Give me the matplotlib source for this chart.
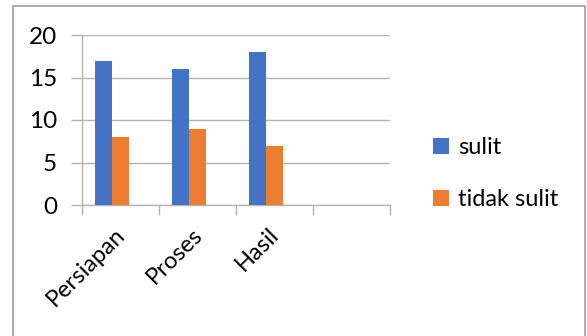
import matplotlib
matplotlib.use("Agg")
import matplotlib.pyplot as plt
from matplotlib.patches import Rectangle
import numpy as np

categories = ["Persiapan", "Proses", "Hasil", ""]
sulit = [17, 16, 18, None]
tidak_sulit = [8, 9, 7, None]
series_names = ["sulit", "tidak sulit"]
colors = ["#4472c4", "#ed7d31"]
y_ticks = [0, 5, 10, 15, 20]

plt.rcParams["font.family"] = ["Lato", "DejaVu Sans"]

fig = plt.figure(figsize=(5.87, 3.36), dpi=100)
ax = fig.add_axes([82 / 587, 131 / 336, 308 / 587, 170 / 336])

x = np.arange(len(categories))
w = 0.22
vals_s = [v if v is not None else 0 for v in sulit]
vals_t = [v if v is not None else 0 for v in tidak_sulit]
b1 = ax.bar(x - w, vals_s, width=w, align="center", color=colors[0], label=series_names[0], zorder=3)
b2 = ax.bar(x, vals_t, width=w, align="center", color=colors[1], label=series_names[1], zorder=3)

ax.set_xlim(-0.5, len(categories) - 0.5)
ax.set_ylim(0, 20)
ax.set_yticks(y_ticks)
ax.set_yticklabels([str(t) for t in y_ticks], fontsize=17.5)

grid_c = "#b3b3b3"
ax.yaxis.grid(True, color=grid_c, linewidth=1.0, zorder=0)
ax.tick_params(axis="y", length=8, color=grid_c, width=1.0, pad=10, labelcolor="black")
for s in ["top", "right"]:
    ax.spines[s].set_visible(False)
ax.spines["left"].set_color(grid_c)
ax.spines["bottom"].set_color(grid_c)
ax.spines["left"].set_linewidth(1.0)
ax.spines["bottom"].set_linewidth(1.0)

# category boundaries as tick marks
ax.set_xticks(np.arange(len(categories) + 1) - 0.5)
ax.set_xticklabels([])
ax.tick_params(axis="x", length=7, color=grid_c, width=1.0)

for i, c in enumerate(categories):
    ax.text(i - 0.08, -2.2, c, rotation=45, ha="right", va="top",
            rotation_mode="anchor", fontsize=17, transform=ax.transData)

leg = fig.legend(handles=[b1, b2], labels=series_names, loc="upper left",
                 bbox_to_anchor=(424 / 587, 1 - 128 / 336), frameon=False,
                 fontsize=17, handlelength=0.65, handleheight=0.65,
                 handletextpad=0.4, labelspacing=1.3, borderaxespad=0)

fig.patches.append(Rectangle((13 / 587, -0.1), 572 / 587, 1.1 - 5.5 / 336,
                             transform=fig.transFigure, fill=False,
                             edgecolor="#a6a6a6", linewidth=1.3))

fig.savefig("out.png", dpi=100)
